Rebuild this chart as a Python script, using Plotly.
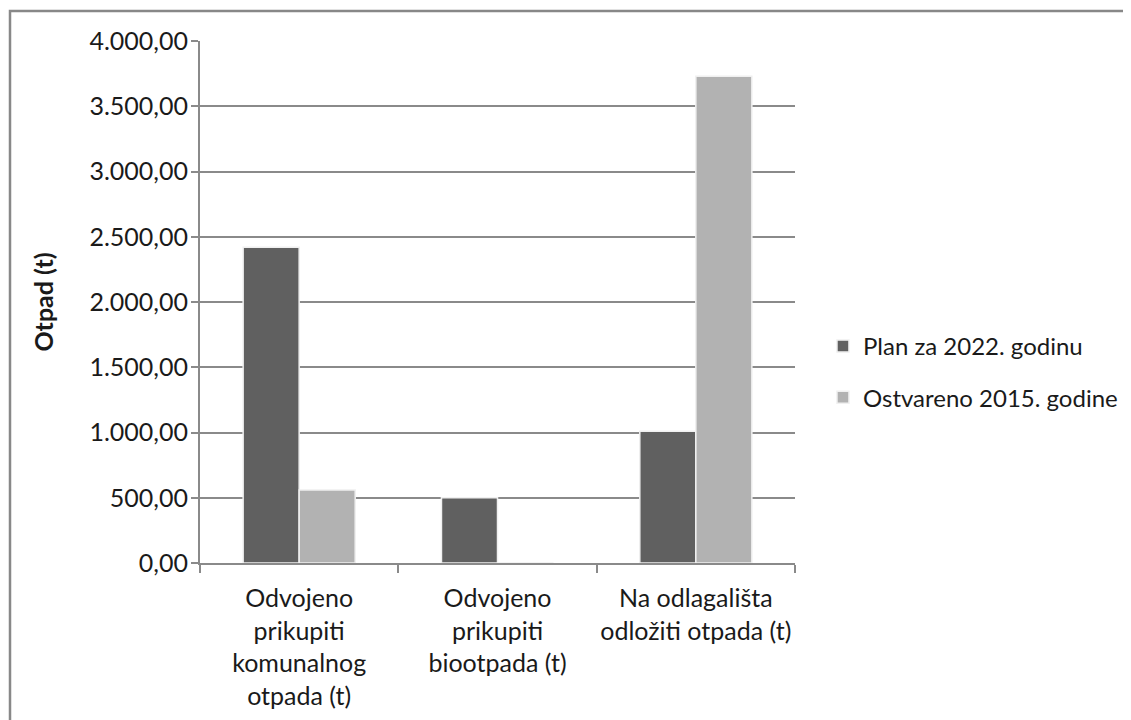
import plotly.graph_objects as go

categories = ["Odvojeno<br>prikupiti<br>komunalnog<br>otpada (t)",
              "Odvojeno<br>prikupiti<br>biootpada (t)",
              "Na odlagališta<br>odložiti otpada (t)"]
series_names = ["Plan za 2022. godinu", "Ostvareno 2015. godine"]
plan_2022 = [2420, 500, 1010]
ostvareno_2015 = [560, 0, 3730]
y_ticks = [0, 500, 1000, 1500, 2000, 2500, 3000, 3500, 4000]

FONT = "Lato"
GRID = "#8a8a8a"
TXT = "#1a1a1a"

fig = go.Figure()
fig.add_trace(go.Bar(name=series_names[0], x=categories, y=plan_2022,
                     marker=dict(color="#606060", line=dict(color="#f0f0f0", width=1.5)),
                     legendgroup="a"))
fig.add_trace(go.Bar(name=series_names[1], x=categories, y=ostvareno_2015,
                     marker=dict(color="#b2b2b2", line=dict(color="#f0f0f0", width=1.5)),
                     legendgroup="b"))

# page body has an 8px margin, so the figure is shifted by 8px
fig.update_layout(
    width=1123, height=712,
    separators=",.",
    barmode="group", bargap=0.435, bargroupgap=0,
    plot_bgcolor="white", paper_bgcolor="white",
    margin=dict(l=192, r=336, t=33, b=157, autoexpand=False),
    font=dict(family=FONT, size=24, color=TXT),
    showlegend=True,
    legend=dict(x=1.047, y=0.366, xanchor="left", yanchor="middle",
                font=dict(family=FONT, size=24, color=TXT),
                traceorder="grouped", tracegroupgap=17,
                itemwidth=30, bgcolor="rgba(0,0,0,0)"),
    xaxis=dict(showline=True, linecolor=GRID, linewidth=2,
               ticks="outside", tickson="boundaries", ticklen=8,
               tickcolor=GRID, tickwidth=2, tickangle=0, automargin=False,
               ticklabelstandoff=12,
               tickfont=dict(family=FONT, size=25, color=TXT), showgrid=False),
    yaxis=dict(range=[0, 4000], tickvals=y_ticks, tickformat=",.2f",
               showline=True, linecolor=GRID, linewidth=2,
               ticks="outside", ticklen=7, tickcolor=GRID, tickwidth=2,
               showgrid=True, gridcolor=GRID, gridwidth=2,
               zeroline=False, automargin=False,
               ticklabelstandoff=-2,
               tickfont=dict(family=FONT, size=25, color=TXT),
               title=dict(text="<b>Otpad (t)</b>", font=dict(family=FONT, size=25, color=TXT),
                          standoff=29)),
    shapes=[dict(type="rect", xref="paper", yref="paper",
                 x0=-190/595, x1=940/595, y0=-1.4, y1=1 + 30/522,
                 line=dict(color="#888888", width=2.5), fillcolor="rgba(0,0,0,0)",
                 layer="below")],
)

fig.write_html("out.html")
